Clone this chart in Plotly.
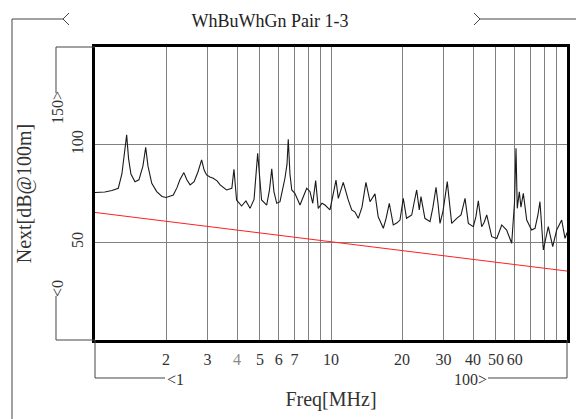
import plotly.graph_objects as go

# ---- data ----
freq_mhz = [1.0, 1.10, 1.18, 1.255, 1.30, 1.334, 1.362, 1.387, 1.42, 1.477, 1.535, 1.596, 1.64,
            1.677, 1.74, 1.826, 1.923, 2.0, 2.08, 2.147, 2.225, 2.29, 2.38, 2.45, 2.53, 2.63,
            2.73, 2.83, 2.90, 2.97, 3.07, 3.17, 3.29, 3.39, 3.61, 3.80, 3.88, 3.98, 4.18, 4.36,
            4.54, 4.72, 4.89, 5.08, 5.34, 5.49, 5.61, 5.73, 5.89, 6.08, 6.38, 6.51, 6.59, 6.70,
            6.82, 7.03, 7.39, 7.89, 8.15, 8.37, 8.61, 8.83, 9.16, 9.43, 9.90, 10.5, 10.74,
            11.27, 11.83, 12.24, 12.64, 13.05, 13.53, 14.06, 14.63, 15.36, 15.85, 16.66, 17.1,
            17.66, 18.36, 19.05, 19.6, 20.24, 20.9, 21.98, 22.47, 23.07, 23.66, 24.06, 25.0,
            26.28, 27.04, 27.86, 28.4, 28.97, 29.83, 31.1, 31.78, 32.46, 34.1, 35.56, 36.98,
            38.19, 40.09, 41.1, 42.1, 43.5, 44.5, 45.7, 47.97, 50.4, 52.9, 55.5, 58.3, 59.9,
            60.8, 61.55, 62.8, 63.8, 65.3, 67.5, 70.8, 73.2, 75.3, 76.8, 79.4, 83.3, 87.0,
            90.4, 94.95, 98.1, 100.0]
next_db = [75.5, 75.8, 76.5, 77.7, 85, 95, 105, 93, 85, 81, 82, 89, 98.6,
           89, 80.2, 76, 73.5, 73, 73.5, 74.2, 78, 82, 85.7, 82, 79.4, 81,
           86, 92.2, 87, 84.5, 83.5, 82.8, 81.5, 79.4, 76.8, 77.7, 87.4, 71.7, 68.6, 71.2,
           67.4, 72, 95.6, 71.7, 69.1, 77, 87.6, 76, 70, 70.8, 82.8, 90, 102.8, 85,
           76.8, 75.1, 69.1, 77.7, 75.9, 70, 81.6, 67.4, 70, 69.1, 66.6, 81.9, 72.5,
           80.7, 71.7, 66.6, 65.5, 62.3, 68, 80.7, 70.8, 74.8, 63.1, 57.2, 62,
           70, 58.9, 60, 61.4, 72.5, 62.3, 64, 70, 76.8, 66.6, 73.4, 62.3,
           60.6, 68, 78.2, 70, 59.7, 66, 81.1, 70, 59.7, 62.3, 64, 72.5,
           59.7, 58, 63, 71.3, 58, 60, 64, 52.9, 52, 58.9, 56.3, 49.5, 70,
           98.1, 67.4, 75.9, 68, 75.1, 61.4, 56.3, 57.2, 64, 70.8, 46.1, 58, 47.8,
           56.3, 61.4, 52, 55]

limit_freq = [1.0, 100.0]
limit_db = [65.3, 35.3]

x_range = [1, 100]
y_range = [0, 150]

x_tickvals = [2, 3, 4, 5, 6, 7, 8, 9, 10, 20, 30, 40, 50, 60, 70, 80, 90]
x_ticktext = ["2", "3", "<span style='color:#8a8a8a'>4</span>", "5", "6", "7", "", "", "10",
              "20", "30", "40", "50", "60", "", "", ""]
y_tickvals = [50, 100]
y_ticktext = ["50", "100"]

title_text = "WhBuWhGn Pair 1-3"
x_title = "Freq[MHz]"
y_title = "Next[dB@100m]"

# ---- layout geometry (pixels) ----
W, H = 576, 419
L, R, T, B = 95, 567, 47, 340
FONT = "Liberation Serif"
LINE = "#444444"
TXT = "#333333"


def xp(px):
    return (px - L) / (R - L)


def yp(py):
    return (B - py) / (B - T)


fig = go.Figure()
fig.add_trace(go.Scatter(x=limit_freq, y=limit_db, mode="lines",
                         line=dict(color="#ff2020", width=1), showlegend=False))
fig.add_trace(go.Scatter(x=freq_mhz, y=next_db, mode="lines",
                         line=dict(color="#1a1a1a", width=1.1), showlegend=False))

shapes = []


def path(points):
    d = "M " + " L ".join(f"{xp(a):.5f},{yp(b):.5f}" for a, b in points)
    shapes.append(dict(type="path", path=d, xref="paper", yref="paper",
                       line=dict(color=LINE, width=1), layer="above"))


# outer frame bracket
path([(12, 419), (12, 19), (63, 19)])
path([(69, 13), (63, 19), (69, 25)])
path([(480, 19), (576, 19)])
path([(474, 13), (480, 19), (474, 25)])
# y-axis range bracket
path([(L, T), (56, T), (56, 93)])
path([(56, 296), (56, B), (L, B)])
# x-axis range bracket
path([(L, B), (L, 378), (165, 378)])
path([(488, 378), (R, 378), (R, B)])


def label(text, px, py, angle=0, xanchor="center"):
    return dict(text=text, x=xp(px), y=yp(py), xref="paper", yref="paper",
                textangle=angle, showarrow=False, xanchor=xanchor, yanchor="middle",
                font=dict(family=FONT, size=16, color=TXT))


annotations = [
    label(f"{y_range[1]}>", 57, 108, -90),
    label(f"<{y_range[0]}", 57, 289, -90),
    label(f"<{x_range[0]}", 165, 379, 0, "left"),
    label(f"{x_range[1]}>", 489, 379, 0, "right"),
]

fig.update_layout(
    width=W, height=H,
    margin=dict(l=L, r=W - R, t=T, b=H - B),
    paper_bgcolor="white", plot_bgcolor="white",
    title=dict(text=title_text, x=270 / W, y=1 - 21 / H, xanchor="center", yanchor="middle",
               font=dict(family=FONT, size=18, color="#222")),
    xaxis=dict(type="log", range=[0, 2], tickvals=x_tickvals, ticktext=x_ticktext,
               showgrid=True, gridcolor="#808080", gridwidth=1,
               showline=True, linecolor="black", linewidth=3, mirror=True,
               ticks="outside", ticklen=3, tickcolor="rgba(0,0,0,0)", tickangle=0,
               tickfont=dict(family=FONT, size=16, color=TXT),
               title=dict(text=x_title, standoff=25, font=dict(family=FONT, size=20, color=TXT)),
               automargin=False, zeroline=False),
    yaxis=dict(range=y_range, tickvals=y_tickvals, ticktext=y_ticktext,
               showgrid=True, gridcolor="#808080", gridwidth=1,
               showline=True, linecolor="black", linewidth=3, mirror=True,
               ticks="outside", ticklen=3, tickcolor="rgba(0,0,0,0)", tickangle=-90,
               tickfont=dict(family=FONT, size=16, color=TXT),
               title=dict(text=y_title, standoff=32, font=dict(family=FONT, size=20, color=TXT)),
               automargin=False, zeroline=False),
    shapes=shapes,
    annotations=annotations,
)

fig.write_html("out.html", config={"displayModeBar": False},
               post_script="document.body.style.margin='0';")
